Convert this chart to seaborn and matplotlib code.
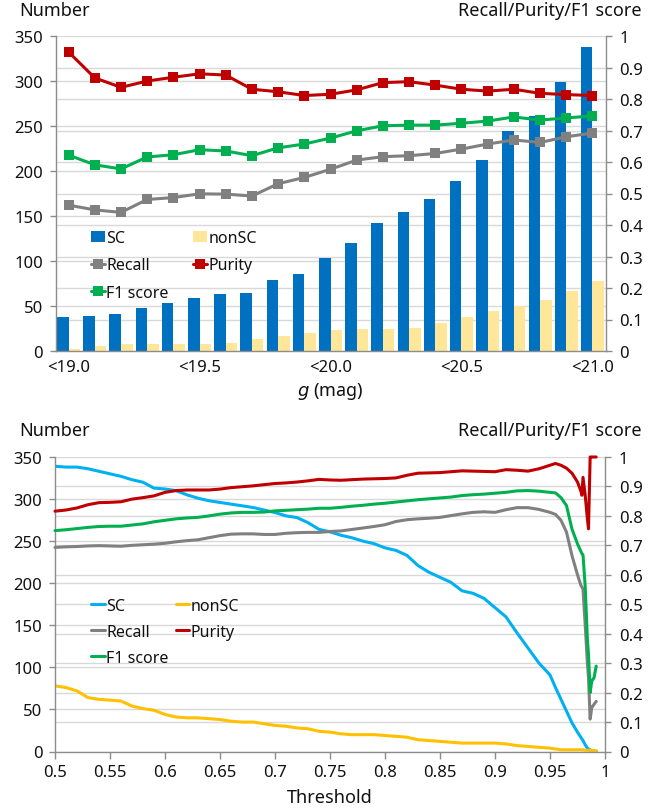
import numpy as np
import pandas as pd
import matplotlib
matplotlib.use("Agg")
import matplotlib.pyplot as plt
from matplotlib.lines import Line2D
from matplotlib.patches import Patch
from matplotlib.ticker import MultipleLocator, FuncFormatter
import seaborn as sns

# ---------------- top panel data (cumulative g-mag bins) ----------------
g_bins = ["<19.0", "<19.1", "<19.2", "<19.3", "<19.4", "<19.5", "<19.6",
          "<19.7", "<19.8", "<19.9", "<20.0", "<20.1", "<20.2", "<20.3",
          "<20.4", "<20.5", "<20.6", "<20.7", "<20.8", "<20.9", "<21.0"]
sc_counts = [38, 39, 41, 48, 53, 59, 63, 65, 79, 86, 103, 120, 142, 154,
             169, 189, 212, 244, 261, 299, 338]
nonsc_counts = [2, 6, 8, 8, 8, 8, 9, 13, 17, 20, 23, 25, 25, 26, 31, 38,
                45, 50, 57, 67, 78]
recall_g = [0.463, 0.448, 0.440, 0.481, 0.487, 0.499, 0.498, 0.492, 0.531,
            0.551, 0.577, 0.606, 0.617, 0.620, 0.627, 0.641, 0.657, 0.670,
            0.662, 0.680, 0.692]
purity_g = [0.949, 0.867, 0.837, 0.857, 0.869, 0.880, 0.876, 0.831, 0.823,
            0.811, 0.815, 0.829, 0.852, 0.855, 0.844, 0.831, 0.825, 0.831,
            0.818, 0.814, 0.811]
f1_g = [0.622, 0.591, 0.578, 0.616, 0.623, 0.639, 0.635, 0.620, 0.645,
        0.657, 0.676, 0.699, 0.715, 0.717, 0.717, 0.723, 0.730, 0.743,
        0.733, 0.740, 0.746]

# ---------------- bottom panel data (vs threshold) ----------------
threshold = [0.50, 0.51, 0.52, 0.53, 0.54, 0.55, 0.56, 0.57, 0.58, 0.59,
             0.60, 0.61, 0.62, 0.63, 0.64, 0.65, 0.66, 0.67, 0.68, 0.69,
             0.70, 0.71, 0.72, 0.73, 0.74, 0.75, 0.76, 0.77, 0.78, 0.79,
             0.80, 0.81, 0.82, 0.83, 0.84, 0.85, 0.86, 0.87, 0.88, 0.89,
             0.90, 0.91, 0.92, 0.93, 0.94, 0.95, 0.955, 0.96, 0.965, 0.97,
             0.975, 0.978, 0.979, 0.980, 0.982, 0.984, 0.985, 0.9865, 0.988,
             0.990, 0.992]
sc_thr = [339, 338, 338, 336, 333, 330, 327, 323, 320, 313,
          312, 310, 305, 301, 298, 296, 294, 292, 290, 287,
          284, 280, 278, 272, 264, 261, 257, 254, 250, 247,
          242, 239, 233, 221, 213, 207, 201, 191, 188, 182,
          171, 160, 141, 123, 105, 91, 76, 62, 48, 34,
          23, 17, 15, 13, 8, 4, 3, 2, 1, 0.5, 0.3]
nonsc_thr = [78, 76, 72, 64, 62, 61, 60, 54, 51, 49,
             44, 41, 40, 40, 39, 38, 36, 35, 35, 33,
             31, 30, 28, 27, 24, 23, 21, 20, 20, 20,
             19, 18, 17, 14, 13, 12, 11, 10, 10, 10,
             10, 9, 7, 6, 5, 4, 3, 2, 2, 2,
             2, 2, 2, 2, 1.5, 1.5, 1.5, 1.5, 1, 1, 1]
recall_thr = [0.693, 0.695, 0.696, 0.698, 0.699, 0.698, 0.697, 0.700, 0.702, 0.704,
              0.707, 0.712, 0.716, 0.719, 0.726, 0.733, 0.738, 0.739, 0.739, 0.737,
              0.737, 0.741, 0.743, 0.744, 0.744, 0.747, 0.749, 0.754, 0.759, 0.764,
              0.770, 0.781, 0.787, 0.790, 0.792, 0.795, 0.801, 0.807, 0.812, 0.814,
              0.812, 0.821, 0.828, 0.828, 0.822, 0.812, 0.805, 0.785, 0.745, 0.665,
              0.600, 0.565, 0.558, 0.552, 0.430, 0.300, 0.252, 0.110, 0.150, 0.160,
              0.170]
purity_thr = [0.816, 0.820, 0.827, 0.838, 0.845, 0.846, 0.848, 0.857, 0.862, 0.868,
              0.880, 0.886, 0.888, 0.888, 0.888, 0.891, 0.896, 0.899, 0.902, 0.906,
              0.910, 0.912, 0.915, 0.919, 0.924, 0.922, 0.921, 0.923, 0.925, 0.926,
              0.927, 0.929, 0.938, 0.945, 0.946, 0.947, 0.950, 0.953, 0.952, 0.951,
              0.950, 0.957, 0.955, 0.952, 0.960, 0.972, 0.978, 0.972, 0.962, 0.945,
              0.915, 0.885, 0.870, 0.931, 0.870, 0.790, 0.756, 1.000, 1.000, 1.000,
              1.000]
f1_thr = [0.750, 0.753, 0.757, 0.761, 0.764, 0.765, 0.765, 0.769, 0.773, 0.780,
          0.785, 0.790, 0.793, 0.795, 0.800, 0.806, 0.810, 0.812, 0.812, 0.813,
          0.817, 0.819, 0.821, 0.823, 0.826, 0.826, 0.829, 0.833, 0.836, 0.840,
          0.843, 0.847, 0.851, 0.855, 0.858, 0.861, 0.864, 0.869, 0.872, 0.874,
          0.877, 0.880, 0.885, 0.886, 0.884, 0.880, 0.878, 0.862, 0.835, 0.755,
          0.705, 0.680, 0.672, 0.668, 0.560, 0.380, 0.330, 0.200, 0.240, 0.250,
          0.290]

# ---------------- style ----------------
sns.set_theme(style="white")
plt.rcParams["font.family"] = ["Noto Sans", "DejaVu Sans"]
plt.rcParams["mathtext.fontset"] = "dejavusans"

BLUE = "#0070C0"
YELLOW = "#FFE699"
LBLUE = "#00B0F0"
ORANGE = "#FFC000"
GRAY = "#808080"
RED = "#C00000"
GREEN = "#00B050"
AXC = "#8C8C8C"
GRIDC = "#D9D9D9"
TXT = "#111111"
TICK_FS = 12
TITLE_FS = 13
LEG_FS = 11.5

W, H = 668, 812
fig = plt.figure(figsize=(W / 100, H / 100), dpi=100)


def style_axes(ax, axr):
    ax.set_ylim(0, 350)
    axr.set_ylim(0, 1)
    ax.yaxis.set_major_locator(MultipleLocator(50))
    ax.yaxis.set_minor_locator(MultipleLocator(35))
    ax.grid(axis="y", which="both", color=GRIDC, lw=1.0)
    ax.grid(axis="x", visible=False)
    ax.set_axisbelow(True)
    axr.grid(False)
    axr.yaxis.set_major_locator(MultipleLocator(0.1))
    axr.yaxis.set_major_formatter(FuncFormatter(lambda v, p: f"{v:g}"))
    for s in ["top", "right"]:
        ax.spines[s].set_visible(False)
    for s in ["top", "left", "bottom"]:
        axr.spines[s].set_visible(False)
    for sp in [ax.spines["left"], ax.spines["bottom"], axr.spines["right"]]:
        sp.set_color(AXC)
        sp.set_linewidth(1.0)
    ax.tick_params(axis="y", which="major", length=4, color=AXC, width=1.0,
                   pad=5, labelsize=TICK_FS, left=True, labelcolor=TXT)
    ax.tick_params(axis="y", which="minor", length=0)
    axr.tick_params(axis="y", length=4, color=AXC, width=1.0, pad=6,
                    labelsize=TICK_FS, right=True, labelcolor=TXT)
    ax.set_ylabel("")
    axr.set_ylabel("")


# ================= top panel =================
ax1 = fig.add_axes([55.5 / W, 1 - 352 / H, 550 / W, 315 / H])
df_bar = pd.DataFrame({
    "bin": g_bins * 2,
    "count": sc_counts + nonsc_counts,
    "type": ["SC"] * len(g_bins) + ["nonSC"] * len(g_bins),
})
sns.barplot(data=df_bar, x="bin", y="count", hue="type",
            palette=[BLUE, YELLOW], width=0.88, saturation=1, linewidth=0,
            legend=False, ax=ax1)
ax1r = ax1.twinx()
idx = np.arange(len(g_bins))
for vals, col in [(recall_g, GRAY), (purity_g, RED), (f1_g, GREEN)]:
    sns.lineplot(x=idx, y=vals, ax=ax1r, color=col, lw=2.2, marker="s",
                 markersize=6.5, markeredgecolor=col, markeredgewidth=0,
                 clip_on=False)
style_axes(ax1, ax1r)
ax1.set_xlim(-0.5, len(g_bins) - 0.5)
ax1.set_xticks(idx[::5])
ax1.set_xticklabels([g_bins[i] for i in idx[::5]])
ax1.tick_params(axis="x", length=0, pad=6, labelsize=TICK_FS, labelcolor=TXT)
ax1.set_xlabel("")
fig.text(330.5 / W, 1 - 392 / H, "$g$ (mag)", ha="center", va="center",
         fontsize=TITLE_FS, color=TXT)
fig.text(19 / W, 1 - 11.5 / H, "Number", ha="left", va="center",
         fontsize=TITLE_FS, color=TXT)
fig.text(642 / W, 1 - 11.5 / H, "Recall/Purity/F1 score", ha="right",
         va="center", fontsize=TITLE_FS, color=TXT)

h_top = [Patch(facecolor=BLUE, edgecolor="none"),
         Line2D([], [], color=GRAY, lw=2.2, marker="s", ms=6.5, mew=0),
         Line2D([], [], color=GREEN, lw=2.2, marker="s", ms=6.5, mew=0),
         Patch(facecolor=YELLOW, edgecolor="none"),
         Line2D([], [], color=RED, lw=2.2, marker="s", ms=6.5, mew=0)]
l_top = ["SC", "Recall", "F1 score", "nonSC", "Purity"]
fig.legend(h_top, l_top, ncol=2, loc="upper left",
           bbox_to_anchor=(91 / W, 1 - 231 / H), bbox_transform=fig.transFigure,
           frameon=False, fontsize=LEG_FS, handlelength=0.85, handleheight=0.75,
           handletextpad=0.1, columnspacing=1.55, labelspacing=0.72,
           borderpad=0, borderaxespad=0, labelcolor=TXT)

# ================= bottom panel =================
ax3 = fig.add_axes([55 / W, 1 - 752.5 / H, 550 / W, 294.5 / H])
df_thr = pd.DataFrame({"threshold": threshold, "SC": sc_thr, "nonSC": nonsc_thr,
                       "Recall": recall_thr, "Purity": purity_thr, "F1": f1_thr})
sns.lineplot(data=df_thr, x="threshold", y="SC", ax=ax3, color=LBLUE, lw=2.2)
sns.lineplot(data=df_thr, x="threshold", y="nonSC", ax=ax3, color=ORANGE, lw=2.2)
ax3r = ax3.twinx()
for col_name, col in [("Recall", GRAY), ("F1", GREEN), ("Purity", RED)]:
    sns.lineplot(data=df_thr, x="threshold", y=col_name, ax=ax3r, color=col,
                 lw=2.2, clip_on=False)
style_axes(ax3, ax3r)
ax3.set_xlim(0.5, 1.0)
ax3.xaxis.set_major_locator(MultipleLocator(0.05))
ax3.xaxis.set_major_formatter(FuncFormatter(lambda v, p: f"{v:g}"))
ax3.tick_params(axis="x", length=5, color=AXC, width=1.0, pad=4,
                labelsize=TICK_FS, bottom=True, labelcolor=TXT)
ax3.set_xlabel("")
fig.text(330 / W, 1 - 798 / H, "Threshold", ha="center", va="center",
         fontsize=TITLE_FS, color=TXT)
fig.text(19 / W, 1 - 431.5 / H, "Number", ha="left", va="center",
         fontsize=TITLE_FS, color=TXT)
fig.text(642 / W, 1 - 431.5 / H, "Recall/Purity/F1 score", ha="right",
         va="center", fontsize=TITLE_FS, color=TXT)

h_bot = [Line2D([], [], color=LBLUE, lw=2.2),
         Line2D([], [], color=GRAY, lw=2.2),
         Line2D([], [], color=GREEN, lw=2.2),
         Line2D([], [], color=ORANGE, lw=2.2),
         Line2D([], [], color=RED, lw=2.2)]
l_bot = ["SC", "Recall", "F1 score", "nonSC", "Purity"]
fig.legend(h_bot, l_bot, ncol=2, loc="upper left",
           bbox_to_anchor=(91 / W, 1 - 599 / H), bbox_transform=fig.transFigure,
           frameon=False, fontsize=LEG_FS, handlelength=0.85,
           handletextpad=0.1, columnspacing=0.45, labelspacing=0.62,
           borderpad=0, borderaxespad=0, labelcolor=TXT)

fig.savefig("out.png", dpi=100)
